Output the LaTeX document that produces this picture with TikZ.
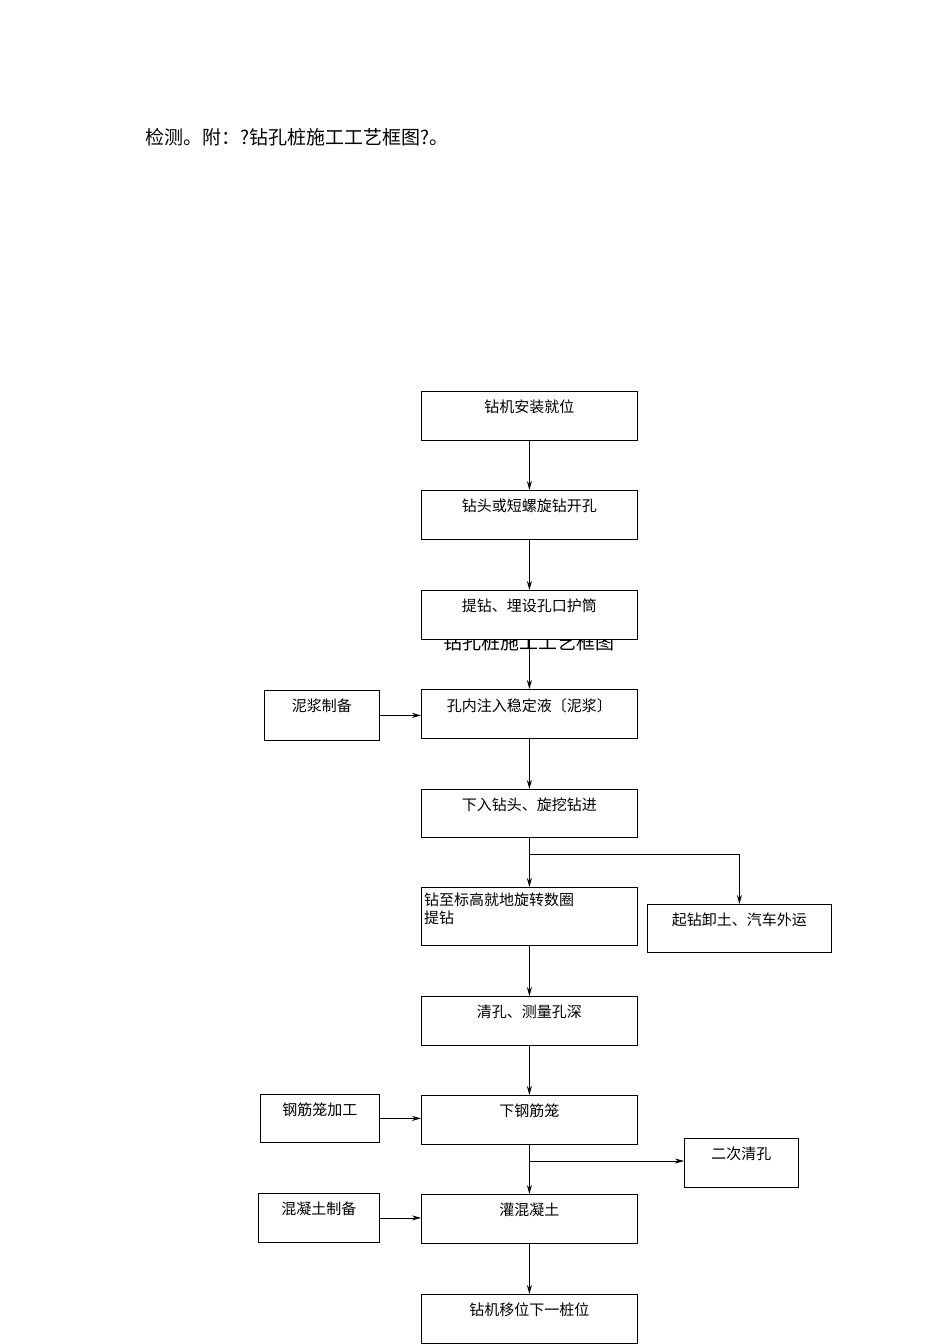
\documentclass[tikz,border=0pt]{standalone}
\usepackage{fontspec}
\setmainfont{Noto Sans CJK SC}
\usetikzlibrary{arrows.meta}
\begin{document}
\begin{tikzpicture}[x=1pt,y=-1pt,
 bx/.style={draw,fill=white,line width=0.8pt,inner sep=0,anchor=north west},
 tx/.style={font=\fontsize{15}{18}\selectfont,anchor=north,inner sep=0},
 ar/.style={-{Stealth[length=9pt,width=5pt]},line width=0.8pt}]
\useasboundingbox (0,0) rectangle (950,1344);
\node[anchor=west,inner sep=0,font=\fontsize{19}{21}\selectfont] (title) at (145,137) {检测。附：?钻孔桩施工工艺框图?。};
\node[anchor=west,inner sep=0,font=\fontsize{19}{21}\selectfont] (cap) at (443,642) {钻孔桩施工工艺框图};
\newcommand\bbox[6]{\node[bx,minimum width={(#4-#2)*1pt},minimum height={(#5-#3)*1pt}] (#1) at (#2,#3) {};
 \node[tx] (#1txt) at ([yshift=-9pt]#1.north) {#6};}
\bbox{a}{421}{391}{637}{440}{钻机安装就位}
\bbox{b}{421}{490}{637}{539}{钻头或短螺旋钻开孔}
\bbox{c}{421}{590}{637}{639}{提钻、埋设孔口护筒}
\bbox{d}{421}{689}{637}{738}{孔内注入稳定液〔泥浆〕}
\bbox{m}{264}{690}{379}{740}{泥浆制备}
\bbox{e}{421}{789}{637}{837}{下入钻头、旋挖钻进}
\node[bx,minimum width=216pt,minimum height=58pt] (f) at (421,887) {};
\node[anchor=north west,inner sep=0,align=left,font=\fontsize{15}{18}\selectfont] (ftxt) at ([shift={(3pt,-6pt)}]f.north west) {钻至标高就地旋转数圈\\提钻};
\bbox{g}{647}{904}{831}{952}{起钻卸土、汽车外运}
\bbox{h}{421}{996}{637}{1045}{清孔、测量孔深}
\bbox{i}{421}{1095}{637}{1144}{下钢筋笼}
\bbox{n}{260}{1094}{379}{1142}{钢筋笼加工}
\bbox{j}{684}{1138}{798}{1187}{二次清孔}
\bbox{k}{421}{1194}{637}{1243}{灌混凝土}
\bbox{o}{258}{1193}{379}{1242}{混凝土制备}
\bbox{l}{421}{1294}{637}{1343}{钻机移位下一桩位}
\draw[ar] (a) -- (b);
\draw[ar] (b) -- (c);
\draw[ar] (c) -- (d);
\draw[ar] (d) -- (e);
\draw[ar] (e) -- (f);
\draw[ar] (f) -- (h);
\draw[ar] (h) -- (i);
\draw[ar] (i) -- (k);
\draw[ar] (k) -- (l);
\draw[ar] (m.east) -- (d.west|-m.east);
\draw[ar] (n.east) -- (i.west|-n.east);
\draw[ar] (o.east) -- (k.west|-o.east);
\draw[ar] (e.south|-0,854) -| (g.north);
\draw[ar] (i.south|-0,1161) -- (j.west|-0,1161);
\end{tikzpicture}
\end{document}
